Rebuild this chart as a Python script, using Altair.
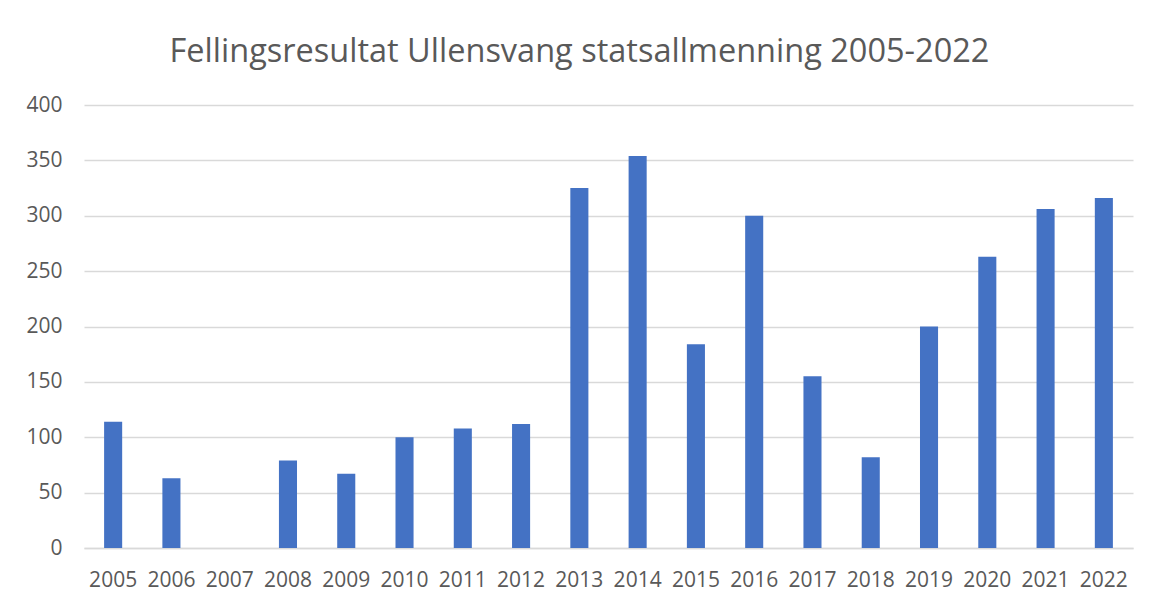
import altair as alt
import pandas as pd

years = [str(y) for y in range(2005, 2023)]
values = [114, 63, 0, 79, 67, 100, 108, 112, 325, 354, 184, 300, 155, 82, 200, 263, 306, 316]

df = pd.DataFrame({"year": years, "value": values})

chart = alt.Chart(df).mark_bar(color="#4472C4").encode(
    x=alt.X("year:N", sort=years,
            scale=alt.Scale(paddingInner=0.69, paddingOuter=0.345),
            axis=alt.Axis(title=None, labelAngle=0, domain=True, domainColor="#d9d9d9",
                          domainWidth=1.5, ticks=False, labelPadding=21,
                          labelFontSize=21, labelColor="#595959", labelFont="Open Sans",
                          grid=False)),
    y=alt.Y("value:Q", scale=alt.Scale(domain=[0, 400]),
            axis=alt.Axis(title=None, values=list(range(0, 401, 50)), domain=False, ticks=False,
                          labelPadding=22, labelFontSize=21, labelColor="#595959",
                          labelFont="Open Sans", gridColor="#d9d9d9", gridWidth=1.5)),
).properties(
    width=1049,
    height=443,
    padding={"left": 17, "top": 27, "right": 5, "bottom": 5},
    title=alt.TitleParams("Fellingsresultat Ullensvang statsallmenning 2005-2022",
                          fontSize=32.5, font="Open Sans", fontWeight="normal",
                          color="#595959", offset=26, anchor="middle", frame="bounds"),
).configure_view(stroke=None)

chart.save("out.html", embed_options={"renderer": "svg", "actions": False})
